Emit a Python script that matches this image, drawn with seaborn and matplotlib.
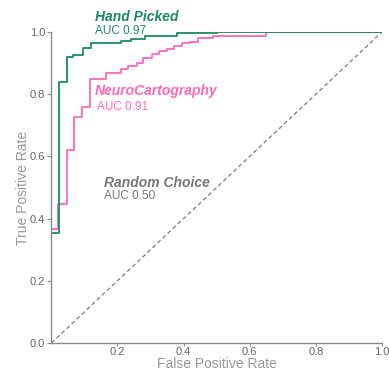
import matplotlib
matplotlib.use("Agg")
import matplotlib.pyplot as plt
import seaborn as sns
import pandas as pd

# ROC corner points (step-post)
hand_fpr = [0.0, 0.0, 0.023, 0.046, 0.066, 0.096, 0.12, 0.21, 0.24, 0.283, 0.379, 0.5, 1.0]
hand_tpr = [0.0, 0.355, 0.84, 0.92, 0.926, 0.947, 0.964, 0.971, 0.977, 0.987, 0.996, 1.0, 1.0]

neuro_fpr = [0.0, 0.0, 0.02, 0.046, 0.069, 0.093, 0.116, 0.164, 0.212, 0.232, 0.258, 0.278,
             0.303, 0.326, 0.349, 0.372, 0.394, 0.42, 0.444, 0.49, 0.65, 1.0]
neuro_tpr = [0.0, 0.365, 0.446, 0.62, 0.728, 0.759, 0.85, 0.869, 0.88, 0.889, 0.899, 0.915,
             0.93, 0.94, 0.946, 0.955, 0.964, 0.969, 0.98, 0.987, 1.0, 1.0]

random_fpr = [0.0, 1.0]
random_tpr = [0.0, 1.0]

labels = ["Hand Picked", "NeuroCartography", "Random Choice"]
aucs = ["AUC 0.97", "AUC 0.91", "AUC 0.50"]

green = "#1b8a63"
pink = "#ff69b4"
gray = "#777777"

sns.set_theme(style="white")
plt.rcParams['font.family'] = ['Liberation Sans', 'DejaVu Sans']

fig = plt.figure(figsize=(3.89, 3.71), dpi=100)
ax = fig.add_axes([0.132, 0.0755, 0.850, 0.8385])

dfHand = pd.DataFrame({"fpr": hand_fpr, "tpr": hand_tpr})
dfNeuro = pd.DataFrame({"fpr": neuro_fpr, "tpr": neuro_tpr})
dfRand = pd.DataFrame({"fpr": random_fpr, "tpr": random_tpr})

sns.lineplot(data=dfRand, x="fpr", y="tpr", ax=ax, color="#888888", lw=1,
             linestyle=(0, (3, 2)), estimator=None, sort=False)
sns.lineplot(data=dfNeuro, x="fpr", y="tpr", ax=ax, color=pink, lw=1.3,
             drawstyle="steps-post", estimator=None, sort=False)
sns.lineplot(data=dfHand, x="fpr", y="tpr", ax=ax, color=green, lw=1.3,
             drawstyle="steps-post", estimator=None, sort=False)

ax.set_xlim(0, 1)
ax.set_ylim(0, 1)
ax.set_xticks([0.2, 0.4, 0.6, 0.8, 1.0])
ax.set_yticks([0.0, 0.2, 0.4, 0.6, 0.8, 1.0])
ax.set_xticklabels(["0.2", "0.4", "0.6", "0.8", "1.0"])
ax.set_yticklabels(["0.0", "0.2", "0.4", "0.6", "0.8", "1.0"])
ax.tick_params(axis="both", colors="#888888", labelcolor="#666666", labelsize=8,
               width=0.8, left=True, bottom=True)
ax.tick_params(axis="y", length=3, pad=1.5)
ax.tick_params(axis="x", length=2, pad=1)
sns.despine(ax=ax)
for s in ["left", "bottom"]:
    ax.spines[s].set_color("#888888")
    ax.spines[s].set_linewidth(1)

ax.set_xlabel("False Positive Rate", color="#999999", fontsize=10, labelpad=0)
ax.set_ylabel("True Positive Rate", color="#999999", fontsize=10, labelpad=0)

# annotations
ax.text(0.132, 1.035, labels[0], color=green, fontsize=10, fontweight="bold",
        fontstyle="italic", va="baseline", clip_on=False)
ax.text(0.132, 0.993, aucs[0], color=green, fontsize=8.5, va="baseline")
ax.text(0.132, 0.797, labels[1], color=pink, fontsize=10, fontweight="bold",
        fontstyle="italic", va="baseline")
ax.text(0.139, 0.749, aucs[1], color=pink, fontsize=8.5, va="baseline")
ax.text(0.16, 0.50, labels[2], color=gray, fontsize=10, fontweight="bold",
        fontstyle="italic", va="baseline")
ax.text(0.16, 0.463, aucs[2], color=gray, fontsize=8.5, va="baseline")

fig.savefig("out.png", dpi=100)
